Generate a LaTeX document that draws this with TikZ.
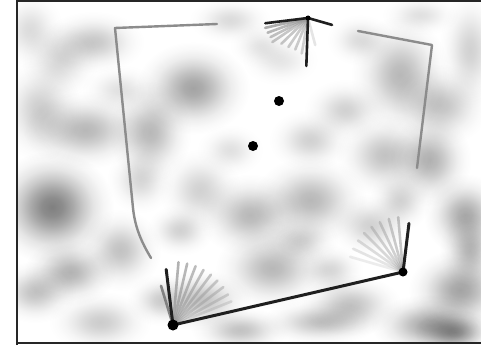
\documentclass[tikz,border=0pt]{standalone}
\colorlet{blobcol}{black!30}
\pgfdeclareradialshading[blobcol]{gblob}{\pgfpointorigin}{color(0bp)=(blobcol); color(4bp)=(blobcol!90!white); color(8bp)=(blobcol!68!white); color(12bp)=(blobcol!42!white); color(16bp)=(blobcol!20!white); color(20bp)=(blobcol!7!white); color(24bp)=(white); color(50bp)=(white)}
\tikzset{
  guide/.style={draw=black!45, line width=2.4pt, line cap=round, line join=round},
  bar/.style={draw=black!88, line width=3pt, line cap=round},
  fanline/.style={draw=black!40, line width=2.6pt, line cap=round, opacity=#1},
  frame/.style={draw=black!85, line width=2pt},
  pivot/.style={circle, fill=black, inner sep=0pt, minimum size=#1}
}
\begin{document}
\begin{tikzpicture}[x=1pt,y=-1pt]
\useasboundingbox (0,0) rectangle (481,345);
\fill[white] (0,0) rectangle (481,345);
% cloudy background
\begin{scope}
\clip (16.5,1) rectangle (481,343);
\foreach \x/\y/\rx/\ry/\o in {
 52/207/48/44/50, 193/88/44/36/36, 150/132/32/40/28, 85/130/48/30/28,
 93/42/40/24/22, 40/110/32/40/20, 310/200/44/34/28, 250/215/40/32/28,
 272/268/44/32/28, 70/272/36/26/30, 35/292/32/24/24, 200/300/40/24/24,
 400/75/38/46/28, 440/105/38/32/24, 385/155/38/32/24, 430/160/32/36/30,
 465/215/32/32/34, 460/290/40/32/36, 430/325/46/24/36, 350/305/40/24/24,
 320/322/46/18/24, 230/20/32/18/14, 260/45/24/18/10, 345/110/32/24/18,
 200/190/32/32/18, 120/250/32/32/24, 310/140/32/24/18, 470/50/24/46/18,
 370/225/32/24/18, 100/322/40/24/20, 455/332/32/18/40, 140/180/26/26/16,
 230/150/26/20/12, 60/60/30/30/16, 360/40/26/20/14, 470/250/24/30/28,
 300/240/30/20/18, 180/230/26/20/18, 400/200/24/24/18, 240/330/38/18/24,
 120/90/30/20/12, 280/60/30/20/10, 30/30/26/30/14, 420/15/30/16/12,
 160/300/26/20/18, 330/270/26/20/16}
{
  \colorlet{blobcol}{black!\o}
  \path[shading=gblob, blend mode=multiply] (\x,\y) ellipse [x radius=1.35*\rx, y radius=1.35*\ry];
}
\end{scope}
% frame
\draw[frame] (16.5,345) -- (16.5,1) -- (481,1);
\draw[frame] (16.5,342.5) -- (481,342.5);
% pivots
\coordinate (A) at (173,325);
\coordinate (B) at (403,272);
\coordinate (C) at (308,18);
\coordinate (L1) at (217,24);
\coordinate (L2) at (115,28);
\coordinate (L3) at (133,208);
\coordinate (L4) at (151,258);
\coordinate (R1) at (358,31);
\coordinate (R2) at (432,45);
\coordinate (R3) at (417,168);
% guide lines
\draw[guide] (L1) -- (L2) -- (L3) .. controls (135,228) and (142,243) .. (L4);
\draw[guide] (R1) -- (R2) -- (R3);
% fan A
\foreach \a/\o in {275/0.75,283/0.7,291/0.65,299/0.6,307/0.55,315/0.5,323/0.45,331/0.4,338/0.3}
  \draw[fanline=\o] (A) -- ++(\a:63);
\draw[fanline=0.85, draw=black!55] (A) -- ++(253:41);
% fan B
\foreach \a/\o in {265/0.55,255/0.5,245/0.45,235/0.42,225/0.38,215/0.32,205/0.25,196/0.18}
  \draw[fanline=\o] (B) -- ++(\a:55);
% fan C
\foreach \a/\l/\o in {167/44/0.8,160/43/0.7,153/42/0.6,146/43/0.55,136/37/0.55,124/35/0.5,112/34/0.5,100/36/0.45,75/28/0.25}
  \draw[fanline=\o] (C) -- ++(\a:\l);
% dark bars
\draw[bar] (A) -- (B);
\draw[bar] (A) -- ++(263:56);
\draw[bar] (B) -- ++(277:49);
\draw[bar, line width=2.6pt] (C) -- ++(173:43);
\draw[bar, line width=2.6pt] (C) -- ++(16:25);
\draw[bar, line width=2.6pt] (C) -- ++(92:48);
\node[pivot=11pt] (pA) at (A) {};
\node[pivot=9pt] (pB) at (B) {};
\node[pivot=5pt] (pC) at (C) {};
% dots
\node[pivot=10pt] (d1) at (279,101) {};
\node[pivot=10pt] (d2) at (253,146) {};
\end{tikzpicture}
\end{document}
